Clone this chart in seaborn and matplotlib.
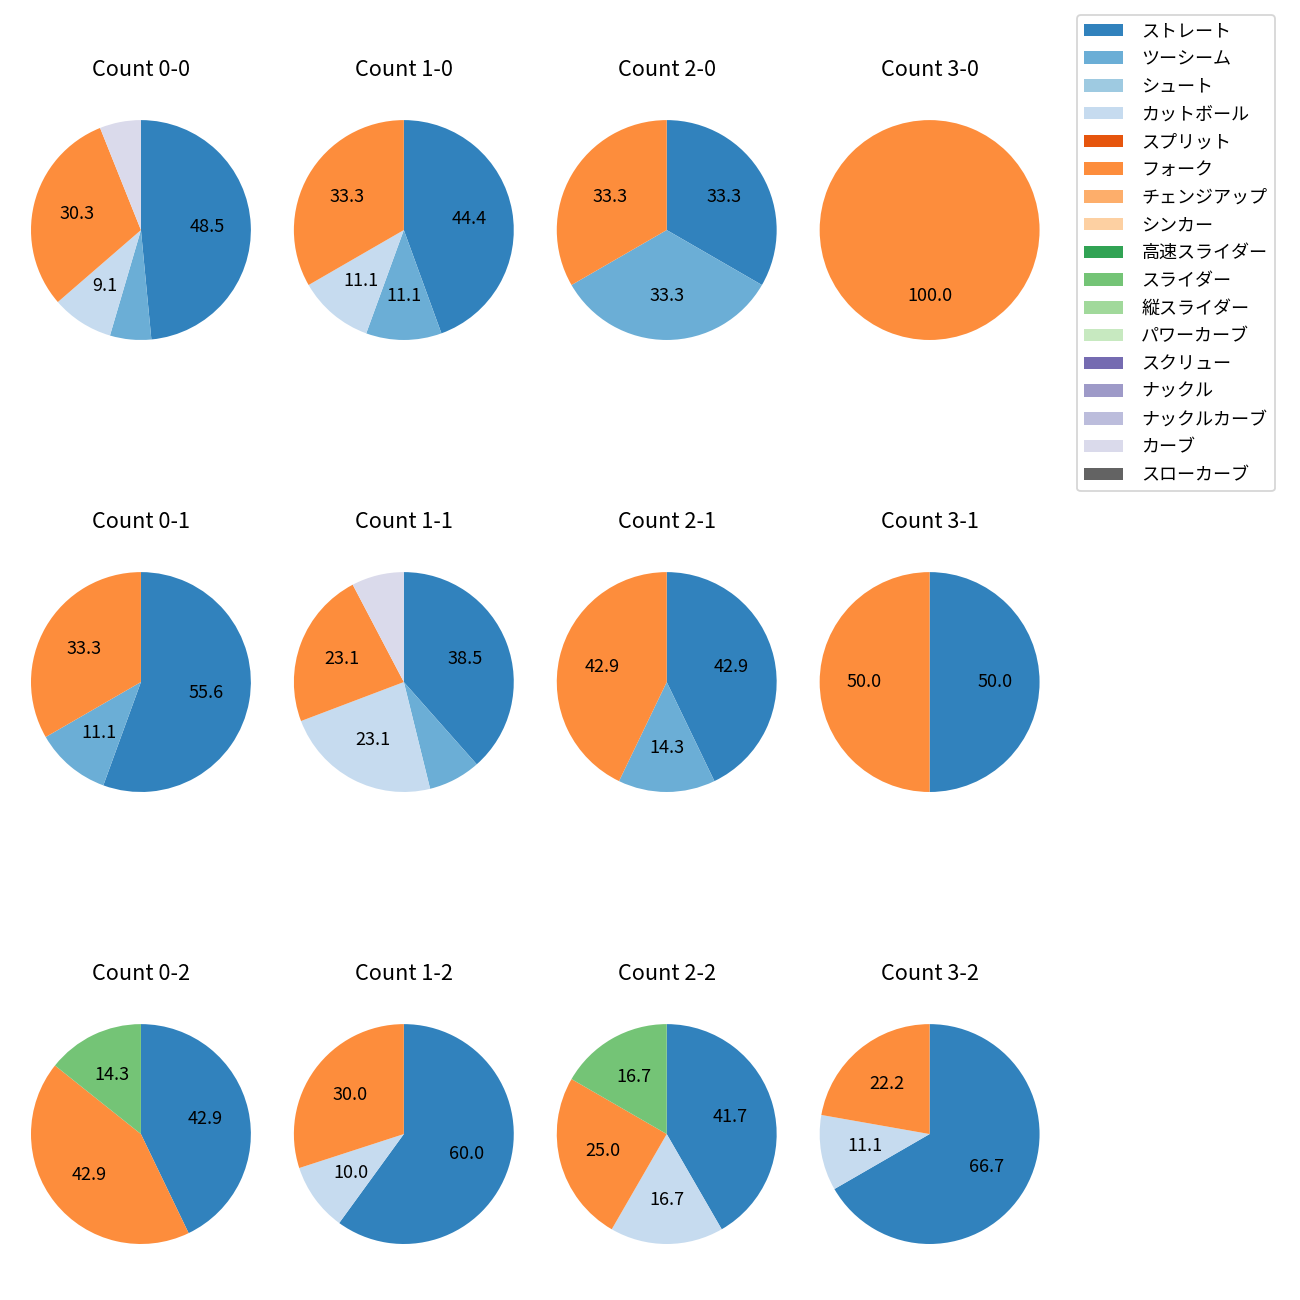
import matplotlib
matplotlib.use('Agg')
import matplotlib.pyplot as plt
from matplotlib.patches import Patch
import seaborn as sns

plt.rcParams['font.family'] = ['Noto Sans CJK JP', 'DejaVu Sans']

# pitch types in legend order
pitch_types = ['ストレート', 'ツーシーム', 'シュート', 'カットボール', 'スプリット', 'フォーク',
               'チェンジアップ', 'シンカー', '高速スライダー', 'スライダー', '縦スライダー',
               'パワーカーブ', 'スクリュー', 'ナックル', 'ナックルカーブ', 'カーブ', 'スローカーブ']
colors = sns.color_palette('tab20c', len(pitch_types))

# counts "balls-strikes", row by row
count_labels = ['0-0', '1-0', '2-0', '3-0',
                '0-1', '1-1', '2-1', '3-1',
                '0-2', '1-2', '2-2', '3-2']

# number of pitches per type (same order as pitch_types)
pitch_counts = [
    [16, 2, 0, 3, 0, 10, 0, 0, 0, 0, 0, 0, 0, 0, 0, 2, 0],  # 0-0
    [4, 1, 0, 1, 0, 3, 0, 0, 0, 0, 0, 0, 0, 0, 0, 0, 0],    # 1-0
    [1, 1, 0, 0, 0, 1, 0, 0, 0, 0, 0, 0, 0, 0, 0, 0, 0],    # 2-0
    [0, 0, 0, 0, 0, 1, 0, 0, 0, 0, 0, 0, 0, 0, 0, 0, 0],    # 3-0
    [5, 1, 0, 0, 0, 3, 0, 0, 0, 0, 0, 0, 0, 0, 0, 0, 0],    # 0-1
    [5, 1, 0, 3, 0, 3, 0, 0, 0, 0, 0, 0, 0, 0, 0, 1, 0],    # 1-1
    [3, 1, 0, 0, 0, 3, 0, 0, 0, 0, 0, 0, 0, 0, 0, 0, 0],    # 2-1
    [1, 0, 0, 0, 0, 1, 0, 0, 0, 0, 0, 0, 0, 0, 0, 0, 0],    # 3-1
    [3, 0, 0, 0, 0, 3, 0, 0, 0, 1, 0, 0, 0, 0, 0, 0, 0],    # 0-2
    [6, 0, 0, 1, 0, 3, 0, 0, 0, 0, 0, 0, 0, 0, 0, 0, 0],    # 1-2
    [5, 0, 0, 2, 0, 3, 0, 0, 0, 2, 0, 0, 0, 0, 0, 0, 0],    # 2-2
    [6, 0, 0, 1, 0, 2, 0, 0, 0, 0, 0, 0, 0, 0, 0, 0, 0],    # 3-2
]

fig, axes = plt.subplots(3, 4, figsize=(10, 10), dpi=130)
fig.subplots_adjust(left=0.0027, right=0.8208, top=0.9288, bottom=0.0219,
                    wspace=-0.0435, hspace=0.644)

for ax, label, row in zip(axes.flat, count_labels, pitch_counts):
    # drop the pitch types that were not thrown
    vals = [v for v in row if v > 0]
    cols = [c for v, c in zip(row, colors) if v > 0]
    ax.pie(vals, colors=cols, startangle=90, counterclock=False,
           autopct=lambda p: f'{p:.1f}' if p >= 8 else '')
    ax.set_title(f'Count {label}', pad=9)

handles = [Patch(facecolor=c, label=t) for t, c in zip(pitch_types, colors)]
fig.legend(handles=handles, loc='upper left', bbox_to_anchor=(0.8285, 0.9885),
           borderaxespad=0, labelspacing=0.54, handlelength=2.16, handletextpad=1.0)

fig.savefig('out.png', dpi=130)
